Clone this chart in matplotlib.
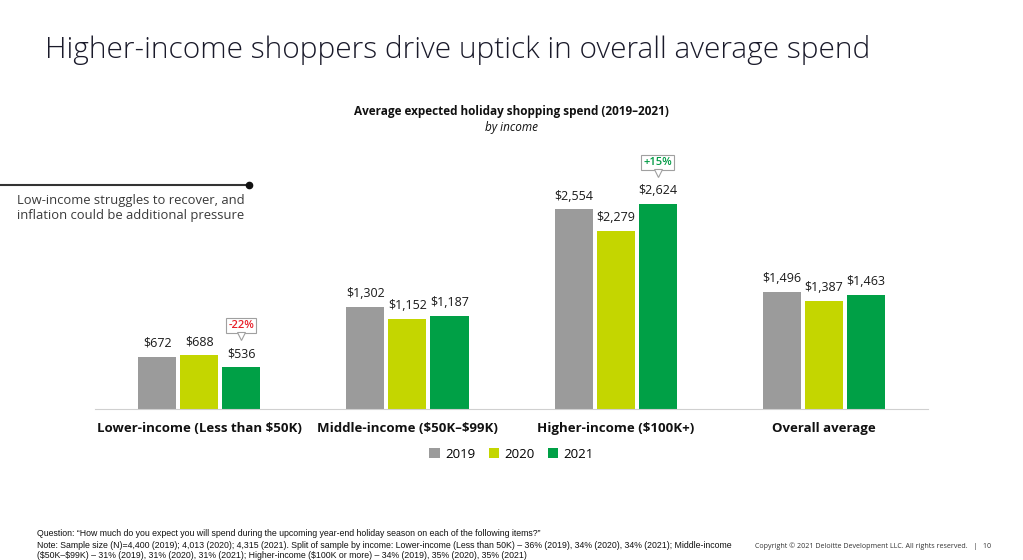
import matplotlib.pyplot as plt
from matplotlib.transforms import offset_copy
import numpy as np

plt.rcParams['font.family'] = ['Open Sans', 'DejaVu Sans']
plt.rcParams['text.parse_math'] = False

# ── data ──────────────────────────────────────────────────────────────
categories = ["Lower-income (Less than $50K)", "Middle-income ($50K–$99K)",
              "Higher-income ($100K+)", "Overall average"]
years = ["2019", "2020", "2021"]
spend_2019 = [672, 1302, 2554, 1496]
spend_2020 = [688, 1152, 2279, 1387]
spend_2021 = [536, 1187, 2624, 1463]
callouts = {0: ("-22%", "#E8202A"), 2: ("+15%", "#009A44")}

colors = ["#9B9B9B", "#C4D600", "#00A046"]
series = [spend_2019, spend_2020, spend_2021]

fig = plt.figure(figsize=(10.23, 5.6), dpi=100)
ax = fig.add_axes([0.0929, 0.2696, 0.8143, 0.4604])

x = np.arange(len(categories))
w = 0.183
off = 0.202
for k, (vals, col, yr) in enumerate(zip(series, colors, years)):
    xs = x + (k - 1) * off
    ax.bar(xs, vals, width=w, color=col, label=yr, zorder=2)
    for xi, v in zip(xs, vals):
        ax.annotate(f"${v:,}", (xi, v), xytext=(0, 5), textcoords="offset points",
                    ha="center", va="bottom", fontsize=9, color="#1a1a1a")

# callout boxes over 2021 bars (box + little pointer)
for i, (txt, col) in callouts.items():
    xi = x[i] + off
    v = spend_2021[i]
    ax.annotate(txt, (xi, v), xytext=(0, 30), textcoords="offset points",
                ha="center", va="center", fontsize=8, color=col, fontweight="semibold",
                bbox=dict(boxstyle="square,pad=0.2", fc="white", ec="#A0A0A0", lw=0.8),
                zorder=3)
    tr = offset_copy(ax.transData, fig=fig, x=0, y=22.3, units="points")
    ax.plot([xi], [v], marker="v", markersize=5.5, mfc="white", mec="#A0A0A0",
            mew=0.8, transform=tr, zorder=4, clip_on=False)

ax.set_xlim(-0.5, 3.5)
ax.set_ylim(0, 3300)
ax.set_xticks(x)
ax.set_xticklabels(categories, fontsize=9.5, fontweight="bold", color="#111111")
ax.tick_params(axis="x", length=0, pad=9)
ax.set_yticks([])
for s in ["top", "right", "left"]:
    ax.spines[s].set_visible(False)
ax.spines["bottom"].set_color("#D0D0D0")
ax.spines["bottom"].set_linewidth(0.8)

ax.legend(loc="upper center", bbox_to_anchor=(0.5, -0.105), ncol=3, frameon=False,
          fontsize=9.5, handlelength=0.8, handleheight=0.8, handletextpad=0.4,
          columnspacing=1.0)

# ── titles ────────────────────────────────────────────────────────────
fig.text(0.044, 1 - 58 / 560, "Higher-income shoppers drive uptick in overall average spend",
         fontsize=21.5, fontweight="light", color="#1a1a2a", va="baseline", ha="left")
fig.text(0.5, 0.8, "Average expected holiday shopping spend (2019–2021)",
         fontsize=8.5, fontweight="bold", ha="center", va="center", color="#111111")
fig.text(0.5, 0.773, "by income", fontsize=8.5, style="italic", ha="center", va="center",
         color="#111111")

# left annotation
fig.add_artist(plt.Line2D([0, 249 / 1023], [1 - 185 / 560] * 2, color="#333333", lw=1.5))
fig.add_artist(plt.Line2D([249 / 1023], [1 - 185 / 560], marker="o", markersize=4.5,
                          color="#111111"))
fig.text(17 / 1023, 1 - 208 / 560,
         "Low-income struggles to recover, and\ninflation could be additional pressure",
         fontsize=9.4, color="#3a3a3a", va="center", ha="left", linespacing=1.2)

# footnotes
foot_font = ["Liberation Sans Narrow", "Liberation Sans", "DejaVu Sans"]
foot_lines = [
    "Question: \u201cHow much do you expect you will spend during the upcoming year-end holiday season on each of the following items?\u201d",
    "Note: Sample size (N)=4,400 (2019); 4,013 (2020); 4,315 (2021). Split of sample by income: Lower-income (Less than 50K) \u2013 36% (2019), 34% (2020), 34% (2021); Middle-income",
    "($50K\u2013$99K) \u2013 31% (2019), 31% (2020), 31% (2021); Higher-income ($100K or more) \u2013 34% (2019), 35% (2020), 35% (2021)",
]
for line, ypix in zip(foot_lines, [534, 545, 555.5]):
    fig.text(37 / 1023, 1 - ypix / 560, line, fontsize=6.3, color="#111111",
             va="center", family=foot_font)
fig.text(755 / 1023, 1 - 546 / 560,
         "Copyright \u00a9 2021 Deloitte Development LLC. All rights reserved.   |   10",
         fontsize=5.1, color="#333333", va="center")

fig.savefig("out.png", dpi=100)
